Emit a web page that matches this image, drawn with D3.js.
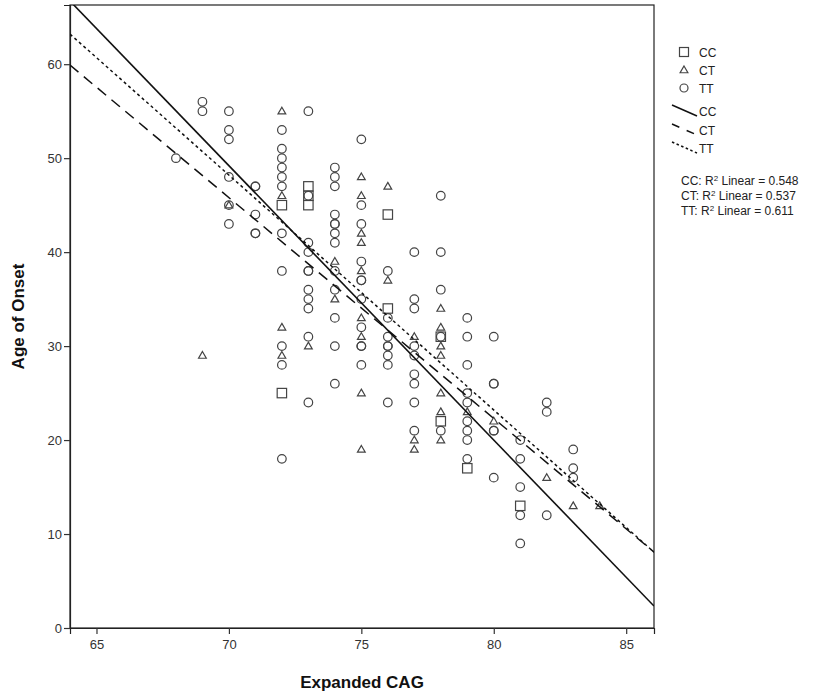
<!DOCTYPE html>
<html>
<head>
<meta charset="utf-8">
<script src="https://cdn.jsdelivr.net/npm/d3@7"></script>
<style>
  body { margin: 0; background: #fff; }
  svg { display: block; }
</style>
</head>
<body>
<div id="chart"></div>
<script>
// points: [expanded CAG, age of onset]
const ccPoints = [[72,45],[72,25],[73,47],[73,46],[73,45],[76,44],[76,34],[78,31],[78,22],[79,17],[81,13]];
const ctPoints = [[69,29],[70,45],[72,55],[72,46],[72,32],[72,29],[73,30],[74,39],[74,35],
  [75,48],[75,46],[75,42],[75,41],[75,38],[75,33],[75,31],[75,25],[75,19],
  [76,47],[76,37],[77,31],[77,20],[77,19],
  [78,34],[78,32],[78,30],[78,29],[78,25],[78,23],[78,20],
  [79,23],[80,22],[82,16],[83,13],[84,13]];
const ttPoints = [[68,50],
  [69,56],[69,55],
  [70,55],[70,53],[70,52],[70,48],[70,45],[70,43],
  [71,47],[71,47],[71,44],[71,42],[71,42],
  [72,53],[72,51],[72,50],[72,49],[72,48],[72,47],[72,42],[72,38],[72,30],[72,28],[72,18],
  [73,55],[73,46],[73,41],[73,40],[73,38],[73,38],[73,36],[73,35],[73,34],[73,31],[73,24],
  [74,49],[74,48],[74,47],[74,44],[74,43],[74,43],[74,42],[74,41],[74,38],[74,36],[74,33],[74,30],[74,26],
  [75,52],[75,45],[75,43],[75,39],[75,37],[75,37],[75,35],[75,32],[75,30],[75,30],[75,28],
  [76,38],[76,33],[76,31],[76,30],[76,30],[76,29],[76,28],[76,24],
  [77,40],[77,35],[77,34],[77,30],[77,29],[77,27],[77,26],[77,24],[77,21],
  [78,46],[78,40],[78,36],[78,31],[78,21],
  [79,33],[79,31],[79,28],[79,25],[79,24],[79,22],[79,21],[79,20],[79,18],
  [80,31],[80,26],[80,26],[80,21],[80,21],[80,16],
  [81,20],[81,18],[81,15],[81,12],[81,9],
  [82,24],[82,23],[82,12],
  [83,19],[83,17],[83,16]];

// fit lines (onset = intercept + slope * CAG)
const fitGroups = ["CC", "CT", "TT"];
const fitIntercepts = [253.6, 210.3, 223.2];
const fitSlopes = [-2.92, -2.35, -2.50];
const fitR2 = ["0.548", "0.537", "0.611"];

const xTicks = [65, 70, 75, 80, 85];
const yTicks = [0, 10, 20, 30, 40, 50, 60];

const W = 830, H = 698;
const margin = { top: 5, right: 176, bottom: 70, left: 70 };

const svg = d3.select("#chart").append("svg")
  .attr("width", W).attr("height", H);

const x = d3.scaleLinear().domain([64.0, 86.05]).range([margin.left, W - margin.right]);
const y = d3.scaleLinear().domain([0, 66.3]).range([H - margin.bottom, margin.top]);

const tickFont = "'Liberation Sans Narrow', 'Liberation Sans', Arial, sans-serif";
const markColor = "#444";

// frame
svg.append("rect")
  .attr("x", x.range()[0]).attr("y", y.range()[1])
  .attr("width", x.range()[1] - x.range()[0])
  .attr("height", y.range()[0] - y.range()[1])
  .attr("fill", "none").attr("stroke", "#222").attr("stroke-width", 1.2);

// axes
const xAxis = svg.append("g")
  .attr("transform", `translate(0,${y.range()[0]})`)
  .call(d3.axisBottom(x).tickValues(xTicks).tickSize(6).tickPadding(6).tickFormat(d3.format("d")));
const yAxis = svg.append("g")
  .attr("transform", `translate(${x.range()[0]},0)`)
  .call(d3.axisLeft(y).tickValues(yTicks).tickSize(6).tickPadding(2).tickFormat(d3.format("d")));
[xAxis, yAxis].forEach(a => {
  a.select(".domain").attr("stroke", "#222").attr("stroke-width", 1.2);
  a.selectAll(".tick line").attr("stroke", "#333").attr("stroke-width", 1.2);
  a.selectAll(".tick text").attr("fill", "#333")
    .style("font-family", tickFont).style("font-size", "13px");
});

// clip for fit lines
svg.append("clipPath").attr("id", "plotclip").append("rect")
  .attr("x", x.range()[0]).attr("y", y.range()[1])
  .attr("width", x.range()[1] - x.range()[0])
  .attr("height", y.range()[0] - y.range()[1]);

// markers
const markerLayer = svg.append("g").attr("fill", "none").attr("stroke", markColor).attr("stroke-width", 1.2);

const tri = d3.symbol().type(d3.symbolTriangle).size(26);

function drawSquares(g, pts) {
  g.selectAll("rect.cc").data(pts).join("rect").attr("class", "cc")
    .attr("x", d => x(d[0]) - 4.7).attr("y", d => y(d[1]) - 4.7)
    .attr("width", 9.4).attr("height", 9.4);
}
function drawTriangles(g, pts) {
  g.selectAll("path.ct").data(pts).join("path").attr("class", "ct")
    .attr("d", tri)
    .attr("transform", d => `translate(${x(d[0])},${y(d[1]) + 0.5})`);
}
function drawCircles(g, pts) {
  g.selectAll("circle.tt").data(pts).join("circle").attr("class", "tt")
    .attr("cx", d => x(d[0])).attr("cy", d => y(d[1])).attr("r", 4.3);
}
drawSquares(markerLayer, ccPoints);
drawTriangles(markerLayer, ctPoints);
drawCircles(markerLayer, ttPoints);

// fit lines
const dashes = [null, "11,7", "3,3"];
const fitLayer = svg.append("g").attr("clip-path", "url(#plotclip)");
fitGroups.forEach((g, i) => {
  const xs = x.domain();
  fitLayer.append("line")
    .attr("x1", x(xs[0])).attr("y1", y(fitIntercepts[i] + fitSlopes[i] * xs[0]))
    .attr("x2", x(xs[1])).attr("y2", y(fitIntercepts[i] + fitSlopes[i] * xs[1]))
    .attr("stroke", "#111").attr("stroke-width", i === 0 ? 1.6 : 1.5)
    .attr("stroke-dasharray", dashes[i]);
});

// legend
const legFont = "'Liberation Sans', Arial, sans-serif";
const leg = svg.append("g");
const markLeg = leg.append("g").attr("fill", "none").attr("stroke", markColor).attr("stroke-width", 1.2);
const lx = 684, ltx = 699;
const markerRows = [52, 70, 88];
markLeg.append("rect").attr("x", lx - 4.5).attr("y", markerRows[0] - 4.5).attr("width", 9).attr("height", 9);
markLeg.append("path").attr("d", tri).attr("transform", `translate(${lx},${markerRows[1] + 0.5})`);
markLeg.append("circle").attr("cx", lx).attr("cy", markerRows[2]).attr("r", 4);
fitGroups.forEach((g, i) => {
  leg.append("text").attr("x", ltx).attr("y", markerRows[i] + 4.5)
    .style("font-family", legFont).style("font-size", "12px").attr("fill", "#222").text(g);
});
const lineRows = [111, 130, 148];
fitGroups.forEach((g, i) => {
  leg.append("line")
    .attr("x1", 672).attr("y1", lineRows[i] - 6)
    .attr("x2", 697).attr("y2", lineRows[i] + 5)
    .attr("stroke", "#111").attr("stroke-width", 1.5)
    .attr("stroke-dasharray", i === 1 ? "8,8" : (i === 2 ? "2.5,2.5" : null));
  leg.append("text").attr("x", ltx).attr("y", lineRows[i] + 4.5)
    .style("font-family", legFont).style("font-size", "12px").attr("fill", "#222").text(g);
});
const r2Rows = [180, 195, 210];
fitGroups.forEach((g, i) => {
  const t = leg.append("text").attr("x", 681).attr("y", r2Rows[i] + 4.5)
    .style("font-family", legFont).style("font-size", "12px").attr("fill", "#222");
  t.append("tspan").text(g + ": R");
  t.append("tspan").attr("dy", -4).style("font-size", "8px").text("2");
  t.append("tspan").attr("dy", 4).text(" Linear = " + fitR2[i]);
});

// axis titles
const titleFont = "'Liberation Sans Narrow', 'Liberation Sans', Arial, sans-serif";
svg.append("text")
  .attr("x", (x.range()[0] + x.range()[1]) / 2).attr("y", 688)
  .attr("text-anchor", "middle")
  .style("font-family", titleFont).style("font-size", "17px").style("font-weight", "bold")
  .attr("fill", "#111").text("Expanded CAG");
svg.append("text")
  .attr("transform", `translate(24,${(y.range()[0] + y.range()[1]) / 2}) rotate(-90)`)
  .attr("text-anchor", "middle")
  .style("font-family", titleFont).style("font-size", "17px").style("font-weight", "bold")
  .attr("fill", "#111").text("Age of Onset");
</script>
</body>
</html>
